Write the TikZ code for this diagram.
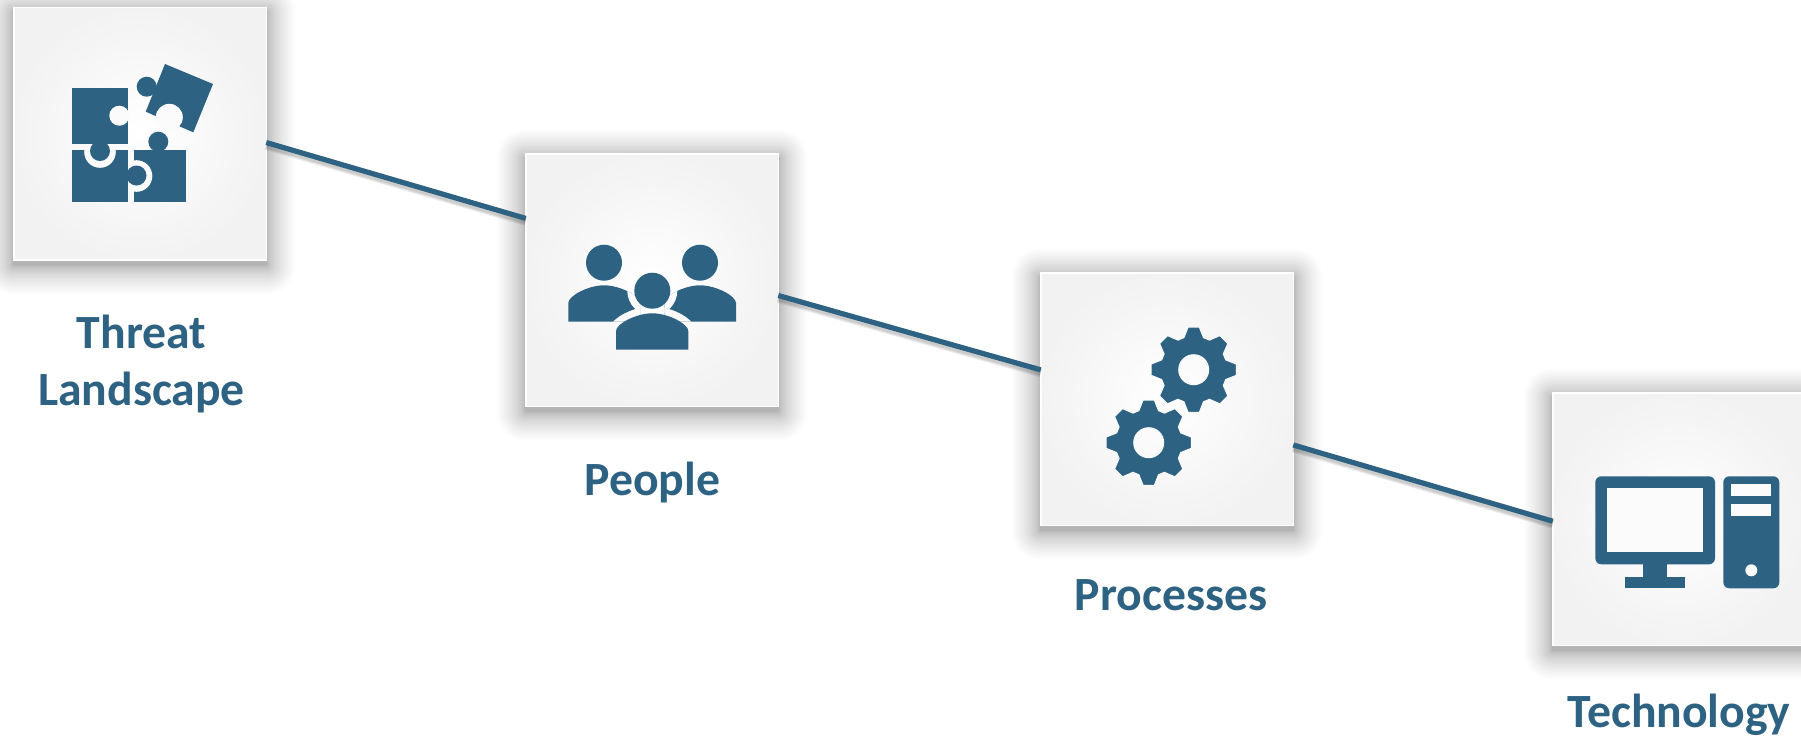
\documentclass[tikz,border=0pt]{standalone}
\usepackage{fontspec}
\setmainfont{Carlito}
\definecolor{ink}{HTML}{2D6282}
\definecolor{iconbg}{HTML}{FBFBFB}
\tikzset{
  x=1pt,y=-1pt,
  card/.style={shade,inner color=white,outer color=black!5,draw=white,line width=1.5pt,
    minimum size=252.5pt,inner sep=0pt,outer sep=0pt},
  link/.style={draw=ink,line width=5.2pt},
  linkshadow/.style={draw=black,opacity=.07,line width=#1},
  icon/.style={fill=ink},
  cut/.style={fill=iconbg},
  lbl/.style={text=ink,font=\fontsize{47.7}{57}\selectfont\bfseries,align=center,inner sep=0pt},
}
\newcommand{\softshadow}[2]{%
  \foreach \i in {0,...,24}{%
    \pgfmathsetmacro{\e}{28*(\i/24)^1.6}
    \fill[black,opacity=.012,rounded corners=\e pt]
      ({#1-127-\e},{#2+5-127-\e}) rectangle ({#1+127+\e},{#2+5+127+\e});
  }%
}
\newcommand{\gearicon}[2]{%
  \fill[icon,draw=iconbg,line width=1pt,even odd rule,shift={(#1,#2)}]
    (-7.5:43) \foreach \k in {0,45,...,315}{ -- ({\k-7.5}:43) -- ({\k+7.5}:43) -- ({\k+17}:33.5) -- ({\k+28}:33.5) } -- cycle
    (0,0) circle[radius=15];
}
\newcommand{\sidebodies}{(568.3,321.7) -- (568.3,303) .. controls (568.3,296) and (588,285.3) .. (604,285.3)
  .. controls (620,285.3) and (640,296) .. (640,303) -- (640,321.7) -- cycle
  (664.3,321.7) -- (664.3,303) .. controls (664.3,296) and (684,285.3) .. (700,285.3)
  .. controls (716,285.3) and (736,296) .. (736,303) -- (736,321.7) -- cycle}
\newcommand{\midbody}{(616,349.7) -- (616,331) .. controls (616,324) and (636,313.3) .. (652.3,313.3)
  .. controls (668.6,313.3) and (688.3,324) .. (688.3,331) -- (688.3,349.7) -- cycle}
\begin{document}
\begin{tikzpicture}
\useasboundingbox (0,0) rectangle (1801,740);
\fill[white] (0,0) rectangle (1801,740);
% shadows
\softshadow{140}{133.7}
\softshadow{652}{280}
\softshadow{1167}{399}
\softshadow{1679}{519}
% cards
\node[card] (threat) at (140,133.7) {};
\node[card] (people) at (652,280) {};
\node[card] (proc) at (1167,399) {};
\node[card] (tech) at (1679,519) {};
% connector shadows and connectors
\foreach \w in {5,7,9}{
  \draw[linkshadow=\w pt] ([shift={(0,3)}]threat.-4.65) -- ([shift={(0,3)}]people.154.7);
  \draw[linkshadow=\w pt] ([shift={(0,3)}]people.-7) -- ([shift={(0,3)}]proc.167.5);
  \draw[linkshadow=\w pt] ([shift={(0,3)}]proc.-20.3) -- ([shift={(0,3)}]tech.181.8);
}
\draw[link] (threat.-4.65) -- (people.154.7);
\draw[link] (people.-7) -- (proc.167.5);
\draw[link] (proc.-20.3) -- (tech.181.8);
% puzzle
\fill[icon] (72.3,87.7) rectangle (128.3,144);
\fill[cut] (119.3,115.7) circle[radius=10];
\fill[icon] (72.3,149.7) rectangle (128.3,201.7);
\fill[icon] (134.3,149.7) rectangle (186.3,201.7);
\begin{scope}
  \clip (60,147) rectangle (128.3,210);
  \fill[cut] (100,152) circle[radius=15.8];
\end{scope}
\fill[icon] (100,151) circle[radius=10];
\begin{scope}
  \clip (131,149.7) rectangle (190,210);
  \fill[cut] (136.5,176) circle[radius=15.8];
\end{scope}
\fill[icon] (136.5,175.5) circle[radius=10];
\fill[icon] (158.3,141.7) circle[radius=10];
\fill[icon] (165,64) -- (213,84) -- (193.3,132.3) -- (145.7,111.7) -- cycle;
\fill[icon] (146.7,86.7) circle[radius=10];
\fill[cut] (169.3,117.3) circle[radius=13.5];
% people
\fill[icon] (604,262.7) circle[radius=18];
\fill[icon] (700,262.7) circle[radius=18];
\fill[icon] \sidebodies;
\begin{scope}
  \clip \sidebodies;
  \fill[cut] (652.3,290.7) circle[radius=25];
  \path[cut,draw=iconbg,line width=14pt] \midbody;
\end{scope}
\fill[icon] (652.3,290.7) circle[radius=18];
\fill[icon] \midbody;
% gears
\gearicon{1148.7}{442.7}
\gearicon{1193.7}{369.7}
% computer
\fill[icon,rounded corners=6pt] (1595.3,476.3) rectangle (1715,564.3);
\fill[iconbg] (1607.3,488.3) rectangle (1703.3,552.3);
\fill[icon] (1643.3,564) rectangle (1667.3,577);
\fill[icon] (1625.3,576.7) rectangle (1685.3,588.3);
\fill[icon,rounded corners=6pt] (1723.3,476.3) rectangle (1779.3,588.3);
\fill[iconbg] (1731,484.3) rectangle (1771.3,496.3);
\fill[iconbg] (1731,504.3) rectangle (1771.3,516.3);
\fill[iconbg] (1751.3,570.3) circle[radius=6];
% labels
\node[lbl] (l1) at (141.5,364.5) {Threat\\Landscape};
\node[lbl,anchor=base] (l2) at (652.5,495) {People};
\node[lbl,anchor=base] (l3) at (1171,610) {Processes};
\node[lbl,anchor=base] (l4) at (1679,727) {Technology};
\end{tikzpicture}
\end{document}
